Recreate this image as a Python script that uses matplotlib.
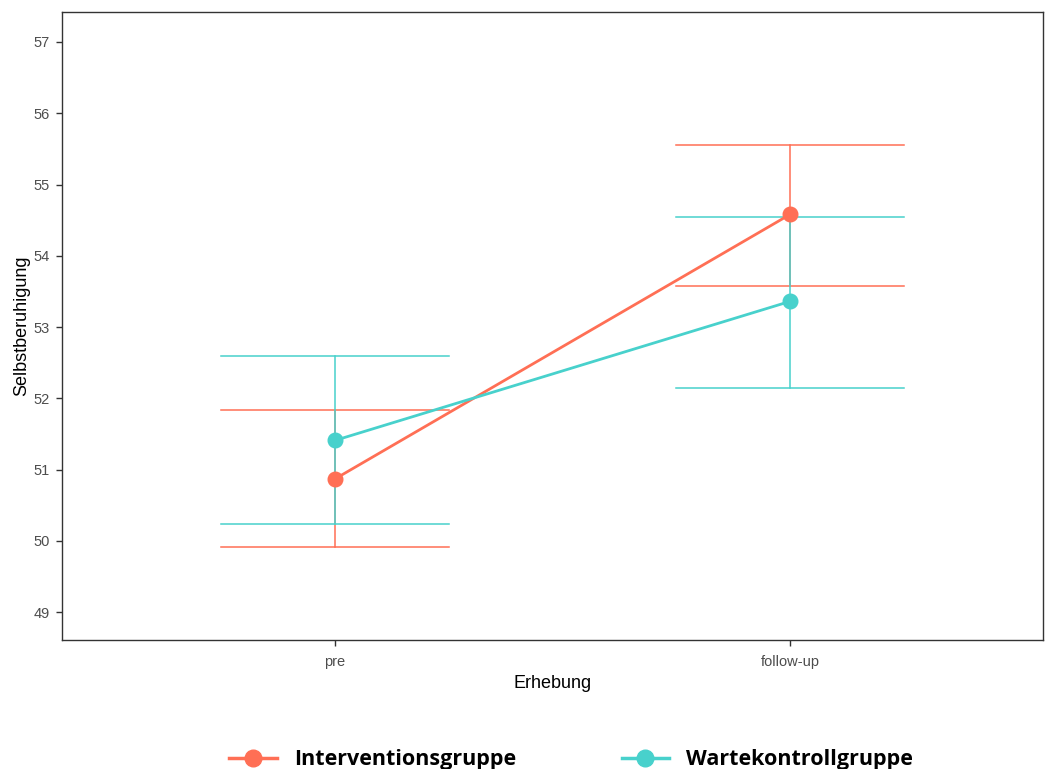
import matplotlib
matplotlib.use("Agg")
import matplotlib.pyplot as plt
from matplotlib.lines import Line2D

# measurement points and group means with error bar limits
zeitpunkte = ["pre", "follow-up"]
gruppen = ["Interventionsgruppe", "Wartekontrollgruppe"]
farben = ["#FF6F55", "#48D1CC"]

mittel_iv = [50.87, 54.58]
unten_iv = [49.91, 53.57]
oben_iv = [51.83, 55.56]

mittel_wk = [51.41, 53.36]
unten_wk = [50.24, 52.15]
oben_wk = [52.59, 54.55]

yticks = [49, 50, 51, 52, 53, 54, 55, 56, 57]

plt.rcParams["font.family"] = ["Liberation Sans", "DejaVu Sans"]

fig = plt.figure(figsize=(10.52, 7.69), dpi=100)
ax = fig.add_axes([62 / 1052, 1 - 640 / 769, (1043 - 62) / 1052, (640 - 12) / 769])

x = list(range(len(zeitpunkte)))
daten = [(mittel_iv, unten_iv, oben_iv), (mittel_wk, unten_wk, oben_wk)]

for (m, lo, hi), col in zip(daten, farben):
    # error bars: vertical whisker plus wide caps
    for xi, l, h in zip(x, lo, hi):
        ax.plot([xi, xi], [l, h], color=col, lw=1.1, zorder=2)
        ax.plot([xi - 0.25, xi + 0.25], [l, l], color=col, lw=1.1, zorder=2)
        ax.plot([xi - 0.25, xi + 0.25], [h, h], color=col, lw=1.1, zorder=2)
for (m, lo, hi), col in zip(daten, farben):
    ax.plot(x, m, color=col, lw=2, marker="o", markersize=10.5, zorder=3)

ax.set_xlim(-0.6, 1.556)
ax.set_ylim(48.61, 57.42)
ax.set_xticks(x)
ax.set_xticklabels(zeitpunkte)
ax.set_yticks(yticks)
ax.tick_params(axis="both", direction="out", length=4, width=1, color="#333333",
               labelcolor="#4D4D4D", labelsize=10.5, pad=5)
ax.tick_params(axis="x", pad=7)
for s in ax.spines.values():
    s.set_color("#333333")
    s.set_linewidth(1)

ax.set_xlabel("Erhebung", fontsize=13, labelpad=4)
ax.set_ylabel("Selbstberuhigung", fontsize=13, labelpad=2)

handles = [Line2D([0], [0], color=c, lw=2.5, marker="o", markersize=12) for c in farben]
fig.legend(handles, gruppen, loc="center", bbox_to_anchor=(0.543, 0.012), ncol=2,
           frameon=False, handlelength=2.2, handletextpad=0.8, columnspacing=4.9,
           prop={"family": ["Open Sans", "DejaVu Sans"], "weight": "bold", "size": 15.5})

fig.savefig("out.png", dpi=100)
